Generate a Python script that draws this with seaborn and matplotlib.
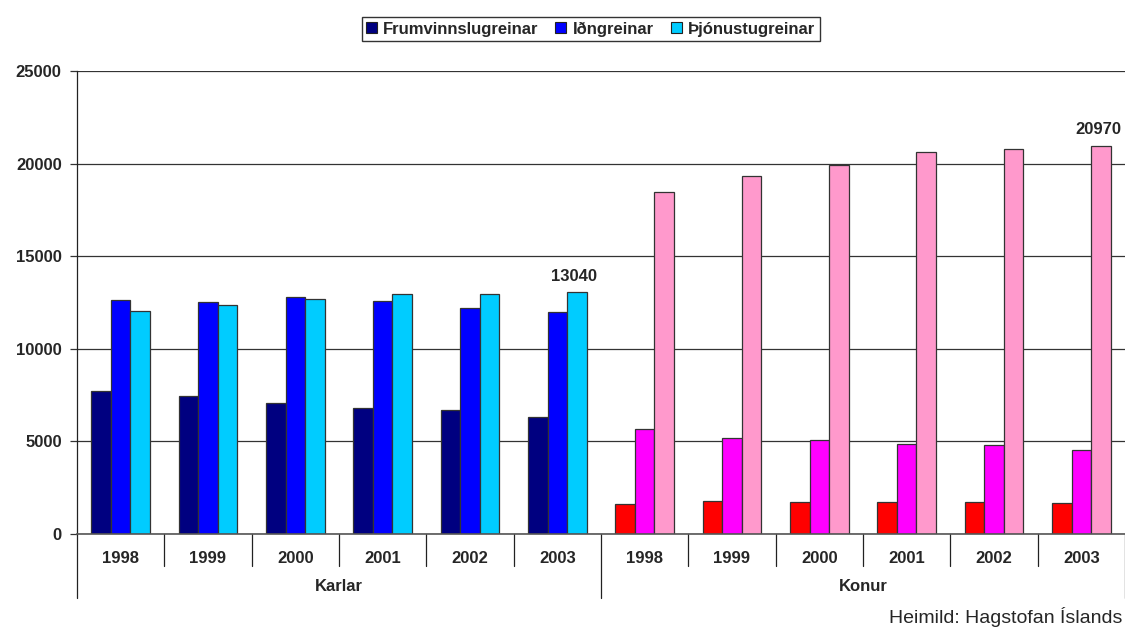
import pandas as pd
import matplotlib.pyplot as plt
import seaborn as sns
from matplotlib.patches import Patch
from matplotlib.transforms import blended_transform_factory

# Data
years = ['1998', '1999', '2000', '2001', '2002', '2003']
groups = ['Karlar', 'Konur']
sectors = ['Frumvinnslugreinar', 'Iðngreinar', 'Þjónustugreinar']

karlar_frum = [7720, 7470, 7070, 6820, 6710, 6320]
karlar_idn = [12620, 12510, 12780, 12580, 12200, 12000]
karlar_thjon = [12060, 12360, 12710, 12960, 12960, 13040]

konur_frum = [1600, 1780, 1710, 1710, 1710, 1670]
konur_idn = [5690, 5200, 5060, 4860, 4800, 4550]
konur_thjon = [18450, 19310, 19950, 20620, 20790, 20970]

karlar_colors = ['#000080', '#0000FF', '#00CCFF']
konur_colors = ['#FF0000', '#FF00FF', '#FF99CC']

# Long table for seaborn
rows = []
series = {
    'Karlar': [karlar_frum, karlar_idn, karlar_thjon],
    'Konur': [konur_frum, konur_idn, konur_thjon],
}
for g in groups:
    for s, vals in zip(sectors, series[g]):
        for y, v in zip(years, vals):
            rows.append({'slot': f'{g} {y}', 'group': g, 'year': y,
                         'sector': s, 'value': v})
df = pd.DataFrame(rows)
order = [f'{g} {y}' for g in groups for y in years]

sns.set_theme(style='white')
plt.rcParams['font.family'] = ['Liberation Sans', 'DejaVu Sans']

fig = plt.figure(figsize=(11.25, 6.33), dpi=100)
ax = fig.add_axes([77 / 1125, 1 - 534 / 633, 1 - 77 / 1125, (534 - 71) / 633])

sns.barplot(data=df, x='slot', y='value', hue='sector', order=order,
            hue_order=sectors, palette=karlar_colors, width=0.67, gap=0,
            edgecolor='#333333', linewidth=0.9, saturation=1,
            legend=False, ax=ax, errorbar=None)

# recolour the women's bars
for i, cont in enumerate(ax.containers):
    for bar in cont:
        if bar.get_x() + bar.get_width() / 2 > 5.5:
            bar.set_facecolor(konur_colors[i])

# value labels on the last service bars
for bar in (ax.containers[2][5], ax.containers[2][11]):
    ax.annotate(f'{int(bar.get_height())}',
                (bar.get_x() + bar.get_width() / 2, bar.get_height()),
                xytext=(-2, 6), textcoords='offset points',
                ha='center', va='bottom', fontsize=12, fontweight='bold')

ax.set_ylim(0, 25000)
ax.set_xlim(-0.5, 11.5)
ax.set_yticks(range(0, 25001, 5000))
ax.set_yticklabels([str(v) for v in range(0, 25001, 5000)],
                   fontsize=12, fontweight='bold')
ax.yaxis.grid(True, color='#333333', linewidth=0.9)
ax.set_axisbelow(True)
ax.tick_params(axis='y', left=True, length=5, width=0.9, color='#333333', pad=6)

ax.set_xticks(range(12))
ax.set_xticklabels([y for g in groups for y in years],
                   fontsize=12, fontweight='bold')
ax.tick_params(axis='x', bottom=False, length=0, pad=12)
ax.set_xlabel('')
ax.set_ylabel('')

for side in ['top', 'right']:
    ax.spines[side].set_visible(False)
ax.spines['left'].set_color('#222222')
ax.spines['bottom'].set_color('#555555')
ax.spines['left'].set_linewidth(0.9)
ax.spines['bottom'].set_linewidth(1.2)

# hierarchical category axis
trans = blended_transform_factory(ax.transData, ax.transAxes)
for k in range(13):
    x = k - 0.5
    bottom = -0.138 if k in (0, 6, 12) else -0.069
    ax.plot([x, x], [0, bottom], color='#222222', lw=0.9,
            transform=trans, clip_on=False)
for i, g in enumerate(groups):
    ax.text(2.5 + 6 * i, -0.114, g, transform=trans, ha='center',
            va='center', fontsize=12, fontweight='bold')

handles = [Patch(facecolor=c, edgecolor='#222222', linewidth=0.8)
           for c in karlar_colors]
leg = fig.legend(handles, sectors, loc='center', bbox_to_anchor=(0.525, 0.954),
                 ncol=3, frameon=True, fancybox=False, edgecolor='black',
                 handlelength=0.65, handleheight=0.65, handletextpad=0.4,
                 columnspacing=1.0, borderpad=0.25, borderaxespad=0,
                 prop={'size': 12, 'weight': 'bold'})
leg.get_frame().set_linewidth(1.0)

fig.text(1 - 3 / 1125, 1 - 617 / 633, 'Heimild: Hagstofan Íslands',
         ha='right', va='center', fontsize=14)

fig.savefig('out.png', dpi=100)
